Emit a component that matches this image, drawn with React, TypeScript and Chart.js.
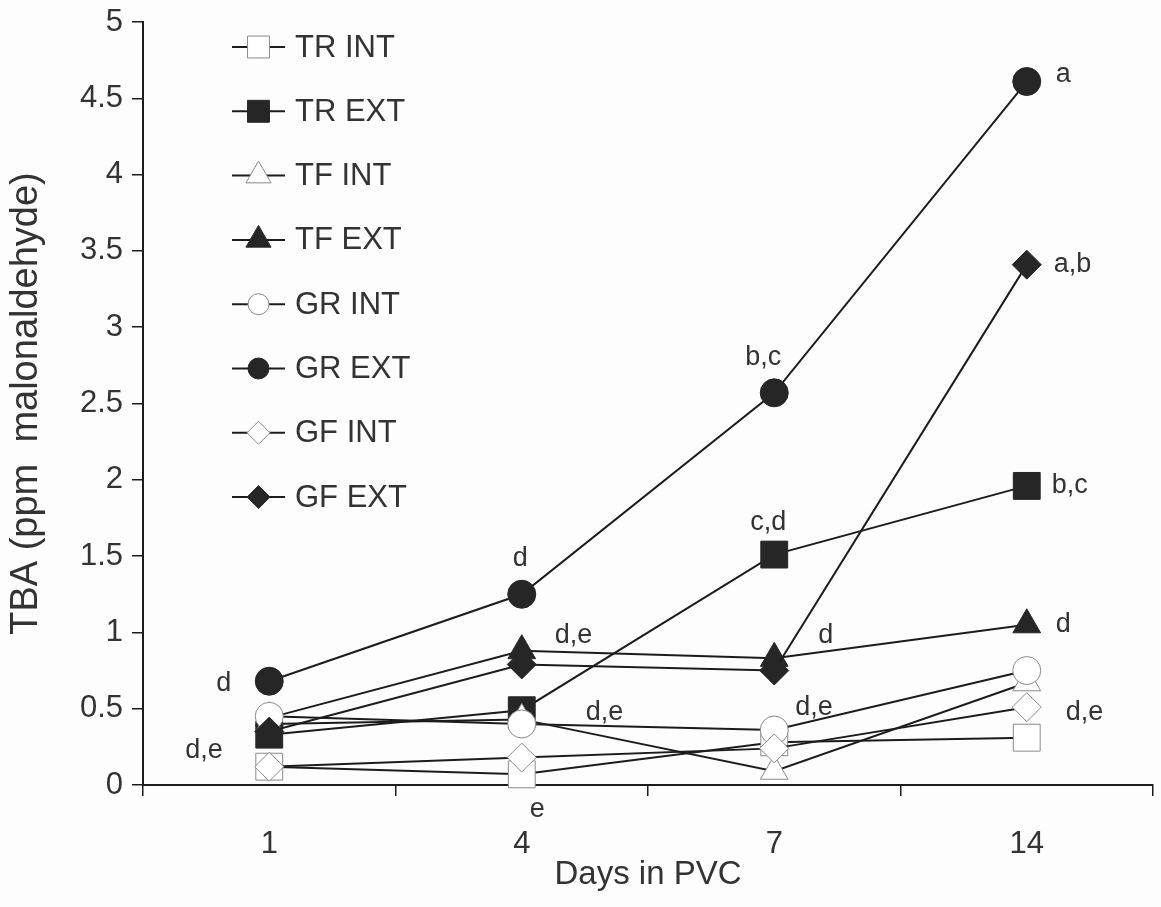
import React, { useEffect, useRef } from 'react';
import { Chart, registerables } from 'chart.js';

Chart.register(...registerables);

// ---------- data ----------
const days = ['1', '4', '7', '14'];
const seriesNames = ['TR INT', 'TR EXT', 'TF INT', 'TF EXT', 'GR INT', 'GR EXT', 'GF INT', 'GF EXT'];
const trInt = [0.12, 0.07, 0.28, 0.31];
const trExt = [0.33, 0.49, 1.51, 1.96];
const tfInt = [0.40, 0.43, 0.09, 0.67];
const tfExt = [0.44, 0.88, 0.83, 1.05];
const grInt = [0.45, 0.40, 0.36, 0.75];
const grExt = [0.68, 1.25, 2.57, 4.61];
const gfInt = [0.12, 0.18, 0.24, 0.51];
const gfExt = [0.35, 0.79, 0.75, 3.41];
const yTickValues = [0, 0.5, 1, 1.5, 2, 2.5, 3, 3.5, 4, 4.5, 5];
const xTitle = 'Days in PVC';
const yTitle = 'TBA (ppm  malonaldehyde)';

// significance letters: text, attached series index, attached day index
const letterTexts = ['d', 'd,e', 'd', 'd,e', 'e', 'd,e', 'b,c', 'c,d', 'd', 'd,e', 'a', 'a,b', 'b,c', 'd', 'd,e'];
const letterSeries = [5, 0, 5, 3, 0, 4, 5, 1, 3, 4, 5, 7, 1, 3, 6];
const letterDays = [0, 0, 1, 1, 1, 1, 2, 2, 2, 2, 3, 3, 3, 3, 3];

// ---------- styles ----------
const seriesValues = [trInt, trExt, tfInt, tfExt, grInt, grExt, gfInt, gfExt];
const seriesShapes = ['rect', 'rect', 'triangle', 'triangle', 'circle', 'circle', 'rectRot', 'rectRot'];
const seriesFilled = [false, true, false, true, false, true, false, true];
const chartRadius: Record<string, number> = { rect: 19, triangle: 16, circle: 14, rectRot: 14.5 };
const legendRadius: Record<string, number> = { rect: 15.5, triangle: 14.5, circle: 10.5, rectRot: 11.5 };
// pixel offsets (left, baseline) of each letter relative to its point
const letterDx = [-53, -84, -9, 33, 8, 64, -29, -24, 44, 21, 29, 27, 25, 29, 39];
const letterDy = [10, -9, -28, -8, 43, -4, -28, -25, -15, -15, 0, 7, 7, 7, 13];

const FONT = '"Liberation Sans", Arial, sans-serif';
const INK = '#1c1c1c';
const TEXT = '#333333';
const FILL_DARK = '#262626';
const OPEN_EDGE = '#8a8a8a';

function markerPath(ctx: CanvasRenderingContext2D, shape: string, x: number, y: number, r: number) {
  ctx.beginPath();
  if (shape === 'circle') {
    ctx.arc(x, y, r, 0, Math.PI * 2);
  } else if (shape === 'rect') {
    const s = Math.SQRT1_2 * r;
    ctx.rect(x - s, y - s, 2 * s, 2 * s);
  } else if (shape === 'triangle') {
    let a = 0;
    ctx.moveTo(x + Math.sin(a) * r, y - Math.cos(a) * r);
    a += (2 * Math.PI) / 3;
    ctx.lineTo(x + Math.sin(a) * r, y - Math.cos(a) * r);
    a += (2 * Math.PI) / 3;
    ctx.lineTo(x + Math.sin(a) * r, y - Math.cos(a) * r);
  } else {
    ctx.moveTo(x - r, y);
    ctx.lineTo(x, y - r);
    ctx.lineTo(x + r, y);
    ctx.lineTo(x, y + r);
  }
  ctx.closePath();
}

const decorPlugin = {
  id: 'decor',
  beforeDraw(chart: any) {
    const ctx = chart.ctx;
    ctx.save();
    ctx.fillStyle = '#fdfdfd';
    ctx.fillRect(0, 0, chart.width, chart.height);
    ctx.restore();
  },
  afterDatasetsDraw(chart: any) {
    const ctx: CanvasRenderingContext2D = chart.ctx;
    const xs = chart.scales.x;
    const ys = chart.scales.y;
    ctx.save();
    // significance letters
    ctx.font = `27px ${FONT}`;
    ctx.fillStyle = TEXT;
    ctx.textAlign = 'left';
    ctx.textBaseline = 'alphabetic';
    letterTexts.forEach((t, i) => {
      const d = letterDays[i];
      const v = seriesValues[letterSeries[i]][d];
      const px = xs.getPixelForValue(d);
      const py = ys.getPixelForValue(v);
      ctx.fillText(t, px + letterDx[i], py + letterDy[i]);
    });
    // legend
    const lx0 = 232;
    const lx1 = 285;
    const ly0 = 47;
    const lstep = 64.3;
    seriesNames.forEach((name, i) => {
      const y = ly0 + lstep * i;
      ctx.strokeStyle = INK;
      ctx.lineWidth = 2;
      ctx.setLineDash([]);
      ctx.beginPath();
      ctx.moveTo(lx0, y);
      ctx.lineTo(lx1, y);
      ctx.stroke();
      const shape = seriesShapes[i];
      markerPath(ctx, shape, (lx0 + lx1) / 2, y, legendRadius[shape]);
      if (seriesFilled[i]) {
        ctx.fillStyle = FILL_DARK;
        ctx.fill();
        ctx.strokeStyle = FILL_DARK;
        ctx.lineWidth = 1;
        ctx.stroke();
      } else {
        ctx.fillStyle = '#ffffff';
        ctx.fill();
        ctx.strokeStyle = OPEN_EDGE;
        ctx.lineWidth = 1;
        ctx.stroke();
      }
      ctx.fillStyle = TEXT;
      ctx.font = `31px ${FONT}`;
      ctx.textBaseline = 'middle';
      ctx.fillText(name, 295, y + 1);
    });
    ctx.restore();
  },
};

export default function App() {
  const ref = useRef<HTMLCanvasElement | null>(null);
  useEffect(() => {
    if (!ref.current) return;
    const datasets = seriesNames.map((name, i) => ({
      label: name,
      data: seriesValues[i],
      borderColor: INK,
      borderWidth: 2,
      pointStyle: seriesShapes[i],
      pointRadius: chartRadius[seriesShapes[i]],
      pointBackgroundColor: seriesFilled[i] ? FILL_DARK : '#ffffff',
      pointBorderColor: seriesFilled[i] ? FILL_DARK : OPEN_EDGE,
      pointBorderWidth: 1,
      fill: false,
      tension: 0,
      clip: false,
      order: seriesNames.length - 1 - i,
    }));
    const chart = new Chart(ref.current, {
      type: 'line',
      data: { labels: days, datasets },
      plugins: [decorPlugin],
      options: {
        animation: false,
        responsive: false,
        maintainAspectRatio: false,
        events: [],
        layout: { autoPadding: false, padding: { top: 22, right: 8, left: 0, bottom: 0 } },
        plugins: { legend: { display: false }, tooltip: { enabled: false } },
        scales: {
          x: {
            type: 'category',
            offset: true,
            grid: {
              offset: true,
              drawOnChartArea: false,
              drawTicks: true,
              tickLength: 11,
              color: INK,
              lineWidth: 1.5,
            },
            border: { display: true, color: INK, width: 2 },
            ticks: {
              color: TEXT,
              font: { family: FONT, size: 31 },
              padding: 30,
              maxRotation: 0,
            },
            title: {
              display: true,
              text: xTitle,
              color: TEXT,
              font: { family: FONT, size: 33 },
              padding: { top: 0, bottom: 12 },
            },
            afterFit(scale: any) {
              scale.height = 122;
              scale.paddingLeft = 0;
              scale.paddingRight = 0;
            },
          },
          y: {
            type: 'linear',
            min: 0,
            max: 5,
            afterBuildTicks(scale: any) {
              scale.ticks = yTickValues.map((v) => ({ value: v }));
            },
            grid: {
              drawOnChartArea: false,
              drawTicks: true,
              tickLength: 11,
              color: INK,
              lineWidth: 1.5,
            },
            border: { display: true, color: INK, width: 2 },
            ticks: {
              color: TEXT,
              font: { family: FONT, size: 31 },
              padding: 9,
              callback: (v: any) => String(v),
            },
            title: {
              display: true,
              text: yTitle,
              color: TEXT,
              font: { family: FONT, size: 38 },
              padding: { top: 4, bottom: 0 },
            },
            afterFit(scale: any) {
              scale.width = 143;
              scale.paddingTop = 0;
              scale.paddingBottom = 0;
            },
          },
        },
      } as any,
    });
    return () => chart.destroy();
  }, []);
  return (
    <div style={{ position: 'fixed', left: 0, top: 0, width: 1161, height: 907, background: '#fdfdfd' }}>
      <canvas ref={ref} width={1161} height={907} style={{ width: 1161, height: 907, display: 'block' }} />
    </div>
  );
}
